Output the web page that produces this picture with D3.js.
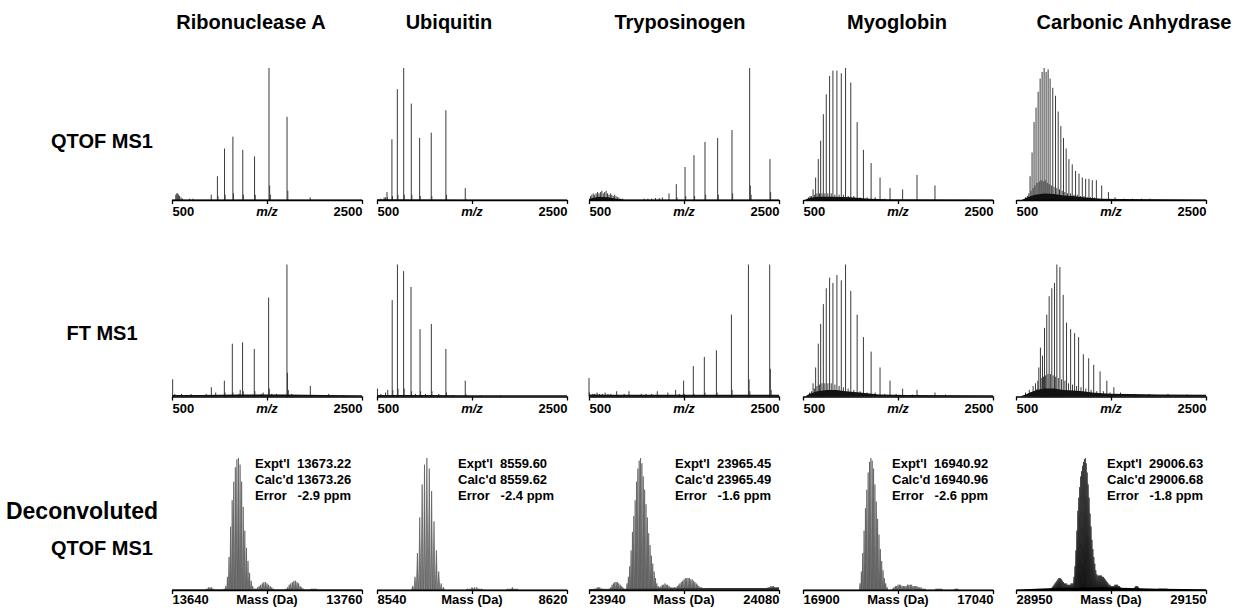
<!DOCTYPE html>
<html>
<head>
<meta charset="utf-8">
<script src="https://cdnjs.cloudflare.com/ajax/libs/d3/7.8.5/d3.min.js"></script>
<style>
body { margin: 0; background: #fff; }
text { font-family: Arial, "Liberation Sans", sans-serif; font-weight: bold; fill: #000; white-space: pre; }
</style>
</head>
<body>
<svg id="chart" width="1239" height="608"></svg>
<script>
// ---- data ----
const proteins = ["Ribonuclease A", "Ubiquitin", "Tryposinogen", "Myoglobin", "Carbonic Anhydrase"];
const mzDomain = [500, 2500];
const massDomains = [[13640, 13760], [8540, 8620], [23940, 24080], [16900, 17040], [28950, 29150]];

const exptl = [13673.22, 8559.60, 23965.45, 16940.92, 29006.63];
const calcd = [13673.26, 8559.62, 23965.49, 16940.96, 29006.68];
const errorPpm = [-2.9, -2.4, -1.6, -2.6, -1.8];

// QTOF MS1 peaks [m/z, relative intensity]
const ribQ = [[540,4],[550,5],[560,5],[570,4],[580,3],[595,2],[610,1],[686,1],[721,1],[913,4],[978,18],[984,3],[1053,39],[1059,4],[1141,48],[1147,5],[1245,38],[1251,4],[1369,33],[1376,4],[1521,100],[1528,11],[1535,4],[1711,63],[1719,7],[1955,2]];
const ubiQ = [[540,1],[575,2],[590,2],[605,6],[611,2],[657,46],[663,3],[714,84],[720,4],[781,100],[787,4],[861,73],[867,4],[949,47],[955,3],[1071,51],[1077,3],[1225,68],[1232,4],[1429,9],[1435,1]];
const tryQ = [[515,3],[530,4],[545,5],[560,4],[575,5],[590,6],[605,5],[620,6],[635,7],[650,5],[665,6],[680,7],[695,5],[710,4],[725,5],[740,4],[755,3],[770,4],[785,3],[800,2],[815,2],[835,1],[855,1],[1080,1],[1120,1],[1160,1],[1200,1.5],[1240,1.5],[1272,2],[1342,5],[1419,12],[1426,2],[1511,25],[1518,3],[1605,34],[1612,3],[1721,44],[1728,4],[1854,47],[1861,4],[2005,53],[2012,5],[2191,100],[2198,11],[2206,4],[2405,31],[2412,6]];
const myoQ = [[606,8],[633,17],[661,31],[686,45],[714,65],[745,80],[780,94],[815,98],[857,98],[903,96],[948,100],[1003,89],[1070,59],[1136,38],[1217,28],[1311,17],[1416,9],[1549,8],[1700,19],[1889,11],[560,2],[575,3],[590,3],[620,4],[647,5],[673,5],[700,5],[730,5],[762,5],[797,5],[836,4],[880,4],[925,4],[975,3],[1035,3],[1100,2],[1175,2],[1260,2],[1360,1]];
const carQ = [[648,18],[669,36],[690,59],[711,70],[733,82],[754,92],[775,97],[796,100],[817,97],[838,99],[859,92],[887,85],[916,79],[944,67],[972,56],[1000,47],[1028,39],[1057,31],[1092,27],[1127,22],[1163,20],[1198,17],[1233,16],[1268,16],[1303,15],[1346,15],[1402,11],[1473,6],[1543,2],[1635,1],[1726,1],[1821,1],[1909,1],[600,2],[620,3],[635,5],[658,7],[680,9],[700,11],[722,13],[744,14],[765,15],[786,14],[807,15],[828,13],[849,12],[872,11],[900,10],[930,9],[958,8],[986,7],[1014,6],[1042,5],[1075,5],[1110,4],[1145,4],[1180,3],[1215,3],[1250,2],[1285,2],[1325,2],[1370,1]];

// QTOF unresolved baseline [m/z, relative intensity]
const ribQBase = [[500,0.3],[2500,0.3]];
const ubiQBase = [[500,0.5],[1500,0.4],[2500,0.3]];
const tryQBase = [[500,1],[600,2.5],[700,2],[800,0.8],[880,0.3],[2500,0.3]];
const myoQBase = [[520,0],[560,1.5],[650,2.5],[800,2.5],[1000,2],[1200,1],[1400,0.6],[2500,0.4]];
const carQBase = [[560,0],[620,2],[700,4],[800,5],[900,4.5],[1000,3.5],[1100,3],[1200,2],[1300,1.5],[1400,1],[1600,0.7],[2500,0.4]];

// FT MS1 peaks [m/z, relative intensity]
const ribF = [[507,13],[530,2],[560,1],[600,2],[650,1],[700,2],[760,1],[860,2],[914,7],[960,3],[1051,12],[1058,3],[1135,40],[1141,3],[1205,2],[1218,5],[1243,41],[1250,4],[1300,1],[1366,36],[1372,4],[1440,2],[1460,3],[1517,75],[1524,6],[1550,2],[1600,2],[1710,100],[1716,18],[1724,5],[1760,2],[1800,1],[1956,8],[2150,2],[2200,1],[2300,1]];
const ubiF = [[505,6],[540,2],[590,3],[613,5],[660,73],[666,5],[715,100],[721,6],[780,95],[786,6],[858,83],[864,4],[905,2],[953,51],[959,4],[1010,2],[1072,55],[1078,4],[1150,2],[1225,36],[1232,3],[1300,1],[1429,12],[1435,2],[1600,1],[1800,1]];
const tryF = [[500,14],[505,3],[540,2],[560,2],[585,3],[610,2],[640,2],[670,3],[700,2],[730,2],[791,4],[830,1],[870,2],[921,4],[960,1],[1000,1],[1050,2],[1100,2],[1160,2],[1219,4],[1280,1],[1330,3],[1412,5],[1450,2],[1496,12],[1503,2],[1598,23],[1605,2],[1714,30],[1721,3],[1841,35],[1848,3],[1999,62],[2006,5],[2178,100],[2185,13],[2193,4],[2402,100],[2409,21],[2417,5]];
const myoF = [[606,10],[633,22],[661,40],[686,55],[714,70],[745,82],[780,90],[815,86],[857,92],[903,88],[948,100],[1003,80],[1070,62],[1136,45],[1217,34],[1311,22],[1416,12],[1549,6],[1700,5],[1889,3],[570,3],[590,4],[620,6],[647,8],[673,9],[700,10],[730,10],[762,10],[797,10],[836,9],[880,8],[925,7],[975,6],[1035,5],[1100,4],[1175,3],[1260,3],[1360,2],[1480,2],[1650,1.5],[2000,1.5]];
const carF = [[722,6],[740,22],[757,37],[779,31],[800,52],[824,62],[849,76],[877,82],[905,86],[930,100],[962,98],[997,77],[1032,56],[1075,51],[1117,48],[1159,45],[1209,32],[1265,29],[1318,24],[1385,19],[1456,12],[1530,7],[600,3],[640,5],[680,8],[705,10],[730,12],[765,14],[790,15],[812,16],[837,17],[862,17],[890,16],[918,15],[945,14],[980,13],[1015,12],[1053,10],[1095,9],[1138,8],[1184,7],[1235,6],[1290,5],[1350,4],[1420,4],[1490,3],[1600,3],[1750,2],[1900,2],[2100,2],[2300,1.5]];

// FT unresolved baseline
const ribFBase = [[500,1.2],[800,1.2],[1200,1.6],[1700,1.6],[2100,1.2],[2500,1]];
const ubiFBase = [[500,1.2],[1000,1.2],[1500,1],[2500,1]];
const tryFBase = [[500,1.6],[700,1.3],[1200,1.3],[1800,1.3],[2500,1.3]];
const myoFBase = [[520,0],[570,2],[650,4],[750,5],[850,5],[950,4],[1100,3],[1300,1.5],[1600,1.2],[2500,1]];
const carFBase = [[540,0],[600,1.5],[660,3.5],[720,5],[800,6],[900,6],[1000,5],[1100,4.5],[1200,4],[1300,3],[1400,2.5],[1500,2],[1700,1.8],[2000,1.6],[2500,1.3]];

// Deconvoluted isotope clusters [first mass, [intensities at 1 Da steps]]
const ribD = [[13662,[1,2,2,2,1]],[13673,[1,3,10,25,48,68,82,93,99,100,95,82,63,45,32,22,13,7,3,1]],[13693,[1,2,3,4,5,6,6,5,4,3,2,1]],[13712,[1,2,4,5,6,7,7,6,5,3,2,1]],[13728,[1,1,1,1]]];
const ubiD = [[8555,[3,10,28,55,80,95,100,92,75,52,30,14,5,2]],[8578,[1,1,2,2,2,1,1]],[8595,[1,1,2,1,1]]];
const tryD = [[23944,[1,1,2,2,2,1,1]],[23955,[1,2,4,5,6,6,6,5,4,3,2]],[23968,[5,10,18,30,44,56,68,82,92,98,100,96,86,76,65,55,43,34,26,20,14,9,5,3]],[23992,[2,3,4,4,5,4,4,3,2,2,2]],[24003,[2,2,3,4,5,6,7,8,9,9,9,9,8,8,7,6,5,4,3,2,2]],[24072,[2,2,3,3,3,2]]];
const myoD = [[16942,[5,14,28,45,62,76,89,97,100,98,92,80,67,54,42,31,22,15,9,5,2]],[16966,[1,2,3,3,4,4,4,3,3,3,3,4,4,4,4,3,3,3,3,2,2,2,1,1,1]],[16998,[1,1,1,1,1]],[17012,[1,1,1]]];
const carD = [[28988,[2,3,4,5,6,7,8,9,9,9,8,7,6,5,5,5,4,4,4,4,5,5]],[29010,[5,10,18,30,45,60,70,78,86,90,94,97,99,100,96,89,80,70,58,48,38,31,25,20,15,12,11,11,11]],[29039,[11,11,10,10,9,8,7,6,5,4,4,3,3,3,3,4,4,4,4,3,3,2]],[29074,[1,2,3,3,3,2,1]],[29100,[1,1,1,1,1,1,1,1,1,1]]];

const ribDBase = [[13640,0.5],[13760,0.5]];
const ubiDBase = [[8540,0.3],[8620,0.3]];
const tryDBase = [[23940,0.8],[23990,1.2],[24030,1.5],[24070,1.5],[24080,2]];
const myoDBase = [[16900,0.3],[17040,0.3]];
const carDBase = [[28950,0.3],[28965,0.8],[28990,1.5],[29040,2],[29100,1],[29150,0.5]];

const qtofPeaks = [ribQ, ubiQ, tryQ, myoQ, carQ];
const qtofBase = [ribQBase, ubiQBase, tryQBase, myoQBase, carQBase];
const ftPeaks = [ribF, ubiF, tryF, myoF, carF];
const ftBase = [ribFBase, ubiFBase, tryFBase, myoFBase, carFBase];
const deconv = [ribD, ubiD, tryD, myoD, carD];
const deconvBase = [ribDBase, ubiDBase, tryDBase, myoDBase, carDBase];

// ---- layout ----
const svg = d3.select("#chart");
const colX = [172, 377, 589, 803, 1016];
const titleX = [251, 449, 680, 897, 1134];
const annX = [255, 458, 675, 892, 1107];
const panelW = 190, plotH = 132;
const rowY = [200, 396.5, 590];

function drawAxis(g, x, y0, lo, hi, label, italic, dy) {
	const mid = (lo + hi) / 2;
	const ax = g.append("g")
		.attr("transform", `translate(0,${y0})`)
		.call(d3.axisBottom(x).tickValues([lo, mid, hi]).tickSize(4).tickSizeOuter(0)
			.tickFormat(d => d === mid ? "" : d));
	ax.select(".domain").attr("stroke-width", 1.6);
	ax.selectAll(".tick line").attr("stroke-width", 1.3);
	ax.selectAll(".tick text")
		.attr("font-size", 13)
		.attr("y", dy)
		.attr("dy", 0)
		.attr("text-anchor", (d, i) => i === 0 ? "start" : "end");

	g.append("text")
		.attr("x", x(mid))
		.attr("y", y0 + dy)
		.attr("text-anchor", "middle")
		.attr("font-size", 13)
		.style("font-style", italic ? "italic" : "normal")
		.text(label);
}

function drawSpectrum(g, x, y, peaks, base) {
	g.append("g").selectAll("line")
		.data(peaks)
		.enter()
		.append("line")
		.attr("x1", d => x(d[0]))
		.attr("x2", d => x(d[0]))
		.attr("y1", y(0))
		.attr("y2", d => y(d[1]))
		.attr("stroke", "#3a3a3a")
		.attr("stroke-width", 1);

	const area = d3.area().x(d => x(d[0])).y0(y(0)).y1(d => y(d[1]));
	g.append("path").datum(base).attr("d", area).attr("fill", "#111");
}

function drawDeconv(g, x, y, clusters, base, fill, stroke) {
	const sticks = [];
	clusters.forEach(c => c[1].forEach((v, i) => sticks.push([c[0] + i, v])));
	const hw = 0.45;
	g.append("g").selectAll("path")
		.data(sticks)
		.enter()
		.append("path")
		.attr("d", d => `M${x(d[0] - hw)},${y(0)}L${x(d[0])},${y(d[1])}L${x(d[0] + hw)},${y(0)}Z`)
		.attr("fill", fill)
		.attr("stroke", stroke)
		.attr("stroke-width", 0.5);

	const area = d3.area().x(d => x(d[0])).y0(y(0)).y1(d => y(d[1]));
	g.append("path").datum(base).attr("d", area).attr("fill", stroke);
}

// titles
svg.selectAll(".title")
	.data(proteins)
	.enter()
	.append("text")
	.attr("class", "title")
	.attr("x", (d, i) => titleX[i])
	.attr("y", 29)
	.attr("text-anchor", "middle")
	.attr("font-size", 20)
	.text(d => d);

// row labels
const rowLabels = [["QTOF MS1", 102, 148, 20], ["FT MS1", 102, 340, 20], ["Deconvoluted", 82, 519, 23], ["QTOF MS1", 102, 555, 20]];
svg.selectAll(".rowlabel")
	.data(rowLabels)
	.enter()
	.append("text")
	.attr("x", d => d[1])
	.attr("y", d => d[2])
	.attr("text-anchor", "middle")
	.attr("font-size", d => d[3])
	.text(d => d[0]);

for (let i = 0; i < proteins.length; i++) {
	const x = d3.scaleLinear().domain(mzDomain).range([colX[i], colX[i] + panelW]);

	// QTOF MS1
	let g = svg.append("g");
	let y = d3.scaleLinear().domain([0, 100]).range([rowY[0], rowY[0] - plotH]);
	drawSpectrum(g, x, y, qtofPeaks[i], qtofBase[i]);
	drawAxis(g, x, rowY[0], mzDomain[0], mzDomain[1], "m/z", true, 16);

	// FT MS1
	g = svg.append("g");
	y = d3.scaleLinear().domain([0, 100]).range([rowY[1], rowY[1] - plotH]);
	drawSpectrum(g, x, y, ftPeaks[i], ftBase[i]);
	drawAxis(g, x, rowY[1], mzDomain[0], mzDomain[1], "m/z", true, 16);

	// Deconvoluted
	const xm = d3.scaleLinear().domain(massDomains[i]).range([colX[i], colX[i] + panelW]);
	g = svg.append("g");
	y = d3.scaleLinear().domain([0, 100]).range([rowY[2], rowY[2] - plotH]);
	const dark = i === 4;
	drawDeconv(g, xm, y, deconv[i], deconvBase[i], dark ? "#1e1e1e" : "#8a8a8a", dark ? "#000" : "#333");
	drawAxis(g, xm, rowY[2], massDomains[i][0], massDomains[i][1], "Mass (Da)", false, 14);

	// annotation
	const ann = [
		"Expt'l  " + exptl[i].toFixed(2),
		"Calc'd " + calcd[i].toFixed(2),
		"Error   " + errorPpm[i].toFixed(1) + " ppm"
	];
	svg.selectAll(null)
		.data(ann)
		.enter()
		.append("text")
		.attr("x", annX[i])
		.attr("y", (d, k) => 468 + k * 16)
		.attr("font-size", 13)
		.text(d => d);
}
</script>
</body>
</html>
